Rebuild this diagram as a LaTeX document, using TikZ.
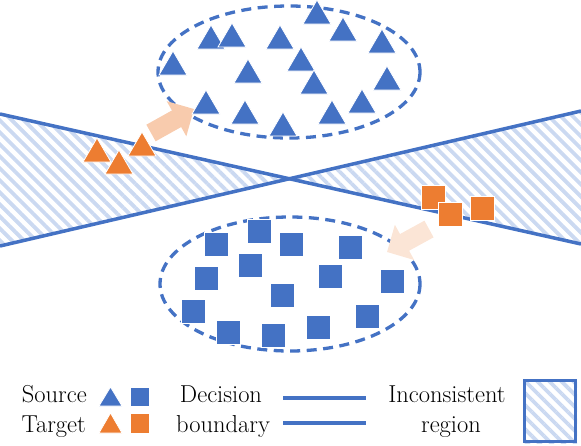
\documentclass[tikz,border=0pt]{standalone}
\usepackage{xcolor}
\usepackage{tikz}
\usetikzlibrary{arrows.meta, patterns.meta}
\definecolor{myblue}{RGB}{68,114,196}
\definecolor{myorange}{RGB}{237,125,49}
\definecolor{mypeach}{RGB}{248,203,173}
\definecolor{mylightpeach}{RGB}{251,229,214}
\definecolor{myhatch}{RGB}{203,217,241}
\tikzset{
  boundary/.style={line width=3.5pt, color=myblue},
  hatched/.style={pattern={Lines[angle=-45, distance=8.5pt, line width=3.8pt]},
    pattern color=myhatch},
  cluster/.style={draw=myblue, line width=3.3pt, dash pattern=on 10pt off 6.5pt},
  srcshape/.style={fill=myblue, draw=white, line width=0.8pt},
  tgtshape/.style={fill=myorange, draw=white, line width=0.8pt},
  shiftarrow/.style={-{Triangle[length=20pt, width=39pt]}, line width=19pt,
    color=mypeach},
  legendtext/.style={font=\fontsize{24.5}{28}\selectfont, inner sep=0pt}
}
% marker helpers: style, x, y (base of triangle / centre of square)
\newcommand{\marktri}[3]{\path[#1] (#2-14,#3) -- ++(14,-24) -- ++(14,24) -- cycle;}
\newcommand{\marksq}[3]{\path[#1] (#2-12,#3-12) rectangle ++(24,24);}

\begin{document}
\begin{tikzpicture}[x=1pt, y=-1pt]
  \useasboundingbox (0,0) rectangle (581,445);

  % Inconsistent regions
  \path[hatched] (0,114) -- (290,179) -- (0,246) -- cycle;
  \path[hatched] (581,111) -- (290,179) -- (581,244) -- cycle;

  % Decision boundaries
  \draw[boundary] (0,114) -- (581,244);
  \draw[boundary] (0,246) -- (581,111);

  % Source clusters
  \draw[cluster] (289,72) ellipse (131 and 66);
  \draw[cluster] (290,284) ellipse (130 and 67);

  % Shift arrows (target -> source)
  \coordinate (tgtTriTail) at (151,133);
  \coordinate (srcTriHead) at (194,109);
  \draw[shiftarrow] (tgtTriTail) -- (srcTriHead);
  \coordinate (tgtSqTail) at (429,229);
  \coordinate (srcSqHead) at (387,252);
  \draw[shiftarrow, color=mylightpeach] (tgtSqTail) -- (srcSqHead);

  % Source triangles
  \marktri{srcshape}{211}{49}
  \marktri{srcshape}{232}{47}
  \marktri{srcshape}{280}{49}
  \marktri{srcshape}{317}{24}
  \marktri{srcshape}{343}{41}
  \marktri{srcshape}{382}{53}
  \marktri{srcshape}{173}{75}
  \marktri{srcshape}{248}{83}
  \marktri{srcshape}{301}{71}
  \marktri{srcshape}{314}{94}
  \marktri{srcshape}{387}{90}
  \marktri{srcshape}{206}{114}
  \marktri{srcshape}{245}{124}
  \marktri{srcshape}{283}{136}
  \marktri{srcshape}{332}{124}
  \marktri{srcshape}{362}{113}

  % Source squares
  \marksq{srcshape}{216}{244}
  \marksq{srcshape}{259}{231}
  \marksq{srcshape}{291}{244}
  \marksq{srcshape}{350}{247}
  \marksq{srcshape}{250}{265}
  \marksq{srcshape}{206}{278}
  \marksq{srcshape}{330}{276}
  \marksq{srcshape}{392}{281}
  \marksq{srcshape}{282}{295}
  \marksq{srcshape}{193}{311}
  \marksq{srcshape}{367}{316}
  \marksq{srcshape}{228}{332}
  \marksq{srcshape}{273}{335}
  \marksq{srcshape}{318}{327}

  % Target samples
  \marktri{tgtshape}{97}{162}
  \marktri{tgtshape}{119}{174}
  \marktri{tgtshape}{142}{156}
  \marksq{tgtshape}{433}{197}
  \marksq{tgtshape}{450}{214}
  \marksq{tgtshape}{482}{208}

  % Legend
  \node[legendtext, anchor=base east] (sourceTxt) at (87,402) {Source};
  \node[legendtext, anchor=base east] (targetTxt) at (86,432) {Target};
  \path[srcshape] (99,406) -- (110.5,387) -- (122,406) -- cycle;
  \path[srcshape] (130,387) rectangle (149,406);
  \path[tgtshape] (99,433) -- (110.5,413) -- (122,433) -- cycle;
  \path[tgtshape] (130,413) rectangle (149,433);

  \node[legendtext, anchor=base] (decisionTxt) at (221,402) {Decision};
  \node[legendtext, anchor=base] (boundaryTxt) at (223,432) {boundary};
  \draw[boundary] (283,398) -- (366,398);
  \draw[boundary] (283,423) -- (366,423);

  \node[legendtext, anchor=base] (inconsistentTxt) at (447,402) {Inconsistent};
  \node[legendtext, anchor=base] (regionTxt) at (451,432) {region};
  \path[hatched] (523,379) rectangle (577,443);
  \draw[myblue, line width=3pt] (524.5,380.5) rectangle (575.5,441.5);
\end{tikzpicture}
\end{document}
